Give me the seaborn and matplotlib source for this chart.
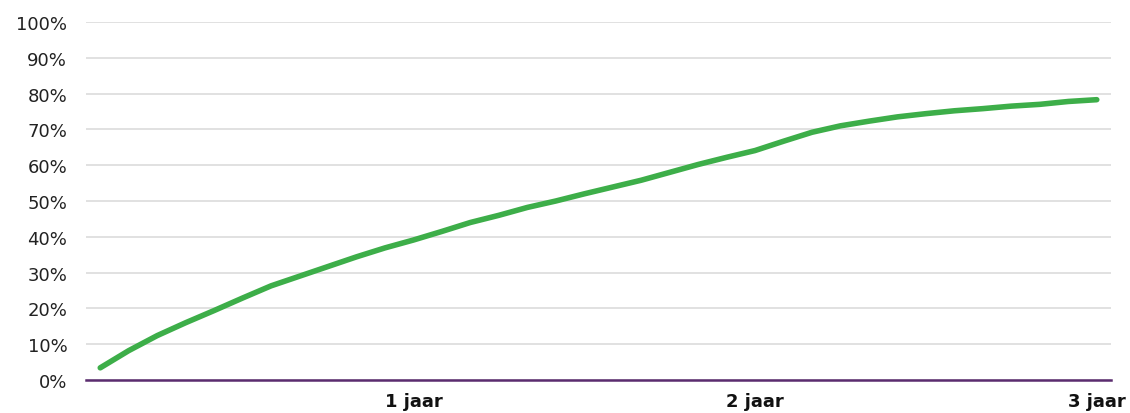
import matplotlib
matplotlib.use("Agg")
import matplotlib.pyplot as plt
import seaborn as sns
import pandas as pd
from matplotlib.ticker import PercentFormatter

months = list(range(1, 37))
share = [3.4, 8.2, 12.4, 16.0, 19.4, 22.9, 26.3, 29.0, 31.7, 34.4, 36.9, 39.1,
         41.5, 44.0, 46.0, 48.2, 50.0, 52.0, 53.9, 55.8, 58.0, 60.2, 62.2, 64.1,
         66.7, 69.2, 71.0, 72.3, 73.5, 74.4, 75.2, 75.8, 76.5, 77.0, 77.8, 78.3]
tick_months = [12, 24, 36]
tick_labels = ["1 jaar", "2 jaar", "3 jaar"]
y_ticks = list(range(0, 101, 10))

df = pd.DataFrame({"maand": months, "aandeel": share})

sns.set_theme(style="white")
plt.rcParams["font.family"] = ["DejaVu Sans"]

fig = plt.figure(figsize=(11.30, 4.14), dpi=100)
ax = fig.add_axes([86 / 1130, (414 - 381) / 414, (1111 - 86) / 1130, (381 - 23) / 414])

sns.lineplot(data=df, x="maand", y="aandeel", ax=ax, color="#3DAE49",
             linewidth=4.0, solid_capstyle="round", zorder=3)

ax.set_xlim(0.5, 36.5)
ax.set_ylim(0, 100)
ax.set_yticks(y_ticks)
ax.yaxis.set_major_formatter(PercentFormatter(decimals=0))
ax.set_xticks(tick_months)
ax.set_xticklabels(tick_labels, fontweight="bold", fontsize=13, color="#111111",
                   family=["DejaVu Sans"])
for lbl in ax.get_yticklabels():
    lbl.set_family(["DejaVu Sans"])
ax.tick_params(axis="y", labelsize=13, labelcolor="#222222", length=0, pad=13.5)
ax.tick_params(axis="x", length=0, pad=9)
ax.grid(axis="y", color="#dcdcdc", linewidth=1.2)
ax.grid(axis="x", visible=False)
for s in ["top", "right", "left"]:
    ax.spines[s].set_visible(False)
ax.spines["bottom"].set_color("#5B2C6F")
ax.spines["bottom"].set_linewidth(1.8)
ax.spines["bottom"].set_zorder(4)
ax.set_xlabel("")
ax.set_ylabel("")

fig.savefig("out.png", dpi=100)
